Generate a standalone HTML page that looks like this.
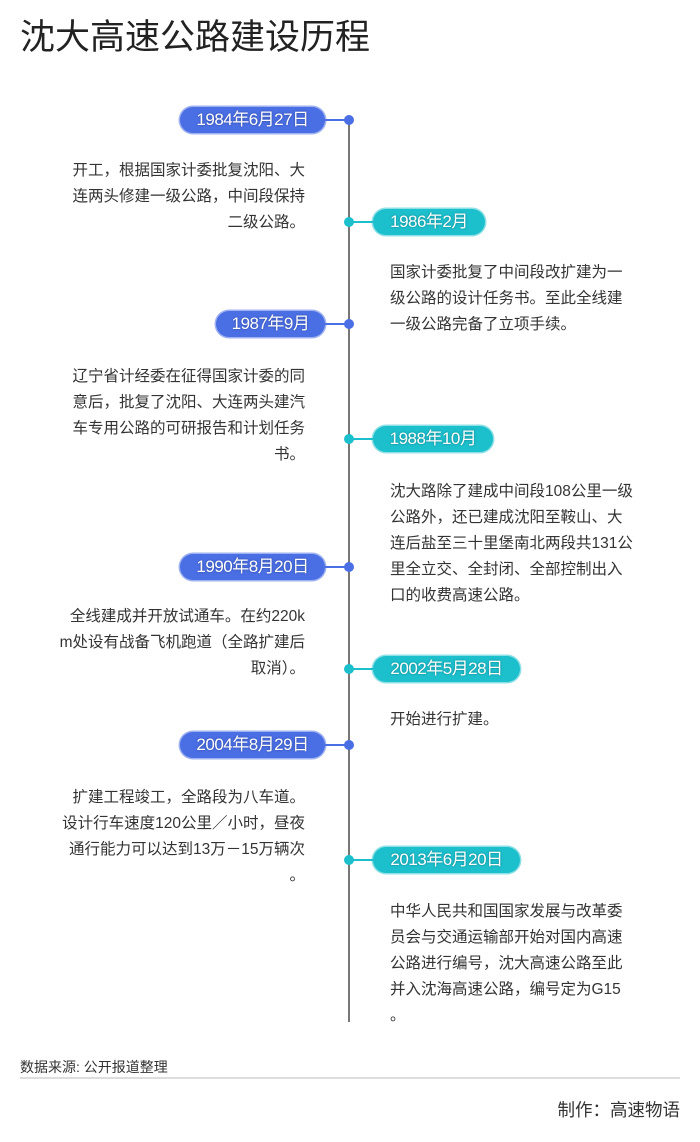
<!DOCTYPE html>
<html><head><meta charset="utf-8"><style>
*{margin:0;padding:0;box-sizing:border-box}
body{width:700px;height:1142px;background:#fff;position:relative;overflow:hidden;font-family:"Liberation Sans","Noto Sans CJK SC",sans-serif;color:#333}
.a{position:absolute}
.pill{position:absolute;height:26px;border-radius:13px;color:#fff;font-size:17px;line-height:26px;text-align:center;text-shadow:0 0 2px rgba(0,0,0,.35);white-space:nowrap;letter-spacing:-0.5px}
.b{background:#4a6ee4;box-shadow:0 0 0 1.5px #9fb2f0}
.t{background:#1cbfcc;box-shadow:0 0 0 1.5px #8fe0e6}
.dot{position:absolute;width:10px;height:10px;border-radius:5px;left:344px}
.con{position:absolute;height:2px}
.tx{position:absolute;font-size:15.5px;line-height:26px;white-space:nowrap}
.l{right:395px;text-align:right}
.r{left:390px}
</style></head><body>
<div class="a" style="left:20px;top:14px;font-size:35px;line-height:48px;color:#222">沈大高速公路建设历程</div>
<div class="a" style="left:348px;top:120px;width:2px;height:902px;background:#777"></div>

<div class="pill b" style="left:180px;top:107px;width:145px">1984年6月27日</div>
<div class="con" style="left:325px;top:119px;width:22px;background:#4a6ee4"></div>
<div class="dot" style="top:115px;background:#4a6ee4"></div>
<div class="tx l" style="top:158px">开工，根据国家计委批复沈阳、大<br>连两头修建一级公路，中间段保持<br>二级公路。</div>

<div class="pill t" style="left:373px;top:209px;width:112px">1986年2月</div>
<div class="con" style="left:351px;top:221px;width:22px;background:#1cbfcc"></div>
<div class="dot" style="top:217px;background:#1cbfcc"></div>
<div class="tx r" style="top:260px">国家计委批复了中间段改扩建为一<br>级公路的设计任务书。至此全线建<br>一级公路完备了立项手续。</div>

<div class="pill b" style="left:216px;top:311px;width:109px">1987年9月</div>
<div class="con" style="left:325px;top:323px;width:22px;background:#4a6ee4"></div>
<div class="dot" style="top:319px;background:#4a6ee4"></div>
<div class="tx l" style="top:364px">辽宁省计经委在征得国家计委的同<br>意后，批复了沈阳、大连两头建汽<br>车专用公路的可研报告和计划任务<br>书。</div>

<div class="pill t" style="left:373px;top:426px;width:120px">1988年10月</div>
<div class="con" style="left:351px;top:438px;width:22px;background:#1cbfcc"></div>
<div class="dot" style="top:434px;background:#1cbfcc"></div>
<div class="tx r" style="top:479px">沈大路除了建成中间段108公里一级<br>公路外，还已建成沈阳至鞍山、大<br>连后盐至三十里堡南北两段共131公<br>里全立交、全封闭、全部控制出入<br>口的收费高速公路。</div>

<div class="pill b" style="left:180px;top:554px;width:145px">1990年8月20日</div>
<div class="con" style="left:325px;top:566px;width:22px;background:#4a6ee4"></div>
<div class="dot" style="top:562px;background:#4a6ee4"></div>
<div class="tx l" style="top:604px">全线建成并开放试通车。在约220k<br>m处设有战备飞机跑道（全路扩建后<br>取消）。</div>

<div class="pill t" style="left:373px;top:656px;width:147px">2002年5月28日</div>
<div class="con" style="left:351px;top:668px;width:22px;background:#1cbfcc"></div>
<div class="dot" style="top:664px;background:#1cbfcc"></div>
<div class="tx r" style="top:707px">开始进行扩建。</div>

<div class="pill b" style="left:180px;top:732px;width:145px">2004年8月29日</div>
<div class="con" style="left:325px;top:744px;width:22px;background:#4a6ee4"></div>
<div class="dot" style="top:740px;background:#4a6ee4"></div>
<div class="tx l" style="top:785px">扩建工程竣工，全路段为八车道。<br>设计行车速度120公里／小时，昼夜<br>通行能力可以达到13万－15万辆次<br>。</div>

<div class="pill t" style="left:373px;top:847px;width:147px">2013年6月20日</div>
<div class="con" style="left:351px;top:859px;width:22px;background:#1cbfcc"></div>
<div class="dot" style="top:855px;background:#1cbfcc"></div>
<div class="tx r" style="top:899px">中华人民共和国国家发展与改革委<br>员会与交通运输部开始对国内高速<br>公路进行编号，沈大高速公路至此<br>并入沈海高速公路，编号定为G15<br>。</div>

<div class="a" style="left:20px;top:1058px;font-size:14px;line-height:18px;color:#333">数据来源: 公开报道整理</div>
<div class="a" style="left:20px;top:1077px;width:660px;height:2px;background:#ddd"></div>
<div class="a" style="right:20px;top:1098px;font-size:17.5px;line-height:24px;color:#333">制作：高速物语</div>
</body></html>
